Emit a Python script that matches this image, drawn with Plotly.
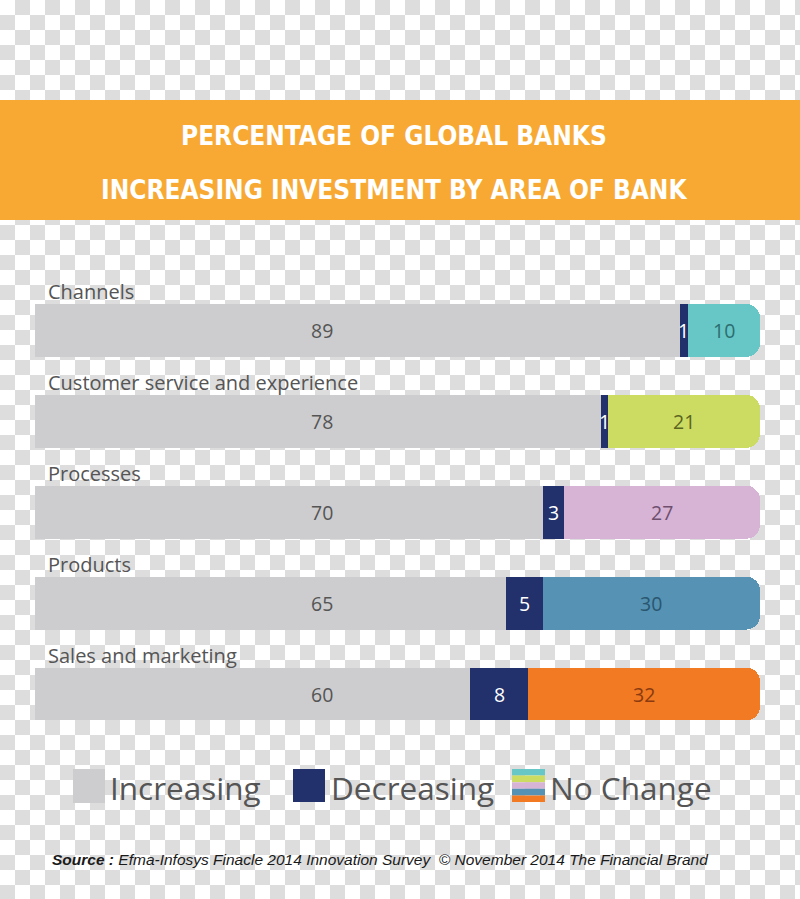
import base64
import plotly.graph_objects as go

# ---------------- data ----------------
categories = ["Channels", "Customer service and experience", "Processes", "Products", "Sales and marketing"]
increasing = [89, 78, 70, 65, 60]
decreasing = [1, 1, 3, 5, 8]
no_change = [10, 21, 27, 30, 32]
no_change_colors = ["#67C6C6", "#CCDC62", "#D7B3D5", "#5592B3", "#F27A22"]
no_change_text_colors = ["#2C6E70", "#5A6420", "#6E4F6E", "#2A5670", "#8A3A10"]
title_lines = ["PERCENTAGE OF GLOBAL BANKS", "INCREASING INVESTMENT BY AREA OF BANK"]
legend_labels = ["Increasing", "Decreasing", "No Change"]
source_bold = "Source :"
source_text = " Efma-Infosys Finacle 2014 Innovation Survey  © November 2014 The Financial Brand"

# ---------------- layout geometry ----------------
W, H = 800, 899
ML, MR, MT, MB = 35, 40, 285, 151
PW = W - ML - MR
PH = H - MT - MB

def px2x(px):
    return (px - ML) / PW

def py2y(py):
    return (H - MB - py) / PH

GRAY = "#CDCDCF"
NAVY = "#22306B"
TXT = "#555555"
NUMFONT = "Open Sans, Noto Sans, sans-serif"

fig = go.Figure()
fig.add_trace(go.Bar(y=categories, x=increasing, orientation="h", name=legend_labels[0],
                     marker=dict(color=GRAY, line=dict(width=0)), hoverinfo="x+name"))
fig.add_trace(go.Bar(y=categories, x=decreasing, orientation="h", name=legend_labels[1],
                     marker=dict(color=NAVY, line=dict(width=0)), hoverinfo="x+name"))
fig.add_trace(go.Bar(y=categories, x=no_change, orientation="h", name=legend_labels[2],
                     marker=dict(color=no_change_colors, line=dict(width=0)), hoverinfo="x+name"))

annotations = []
for i, cat in enumerate(categories):
    # row label above bar
    annotations.append(dict(x=px2x(46), xref="paper", y=cat, yref="y", yshift=38.5,
                            text=cat, showarrow=False, xanchor="left", yanchor="middle",
                            font=dict(family=NUMFONT, size=20, color=TXT)))
    # increasing value
    annotations.append(dict(x=px2x(322) * 100, y=cat, text=str(increasing[i]), showarrow=False,
                            font=dict(family=NUMFONT, size=19.5, color=TXT)))
    # decreasing value (centered on its segment)
    annotations.append(dict(x=increasing[i] + decreasing[i] / 2, y=cat, text=str(decreasing[i]),
                            showarrow=False, font=dict(family=NUMFONT, size=19.5, color="white")))
    # no change value
    annotations.append(dict(x=increasing[i] + decreasing[i] + no_change[i] / 2, y=cat,
                            text=str(no_change[i]), showarrow=False,
                            font=dict(family=NUMFONT, size=19.5, color=no_change_text_colors[i])))

# title
TFONT = "DejaVu Sans Condensed, DejaVu Sans, sans-serif"
annotations.append(dict(x=px2x(394), xref="paper", y=py2y(136), yref="paper", text="<b>%s</b>" % title_lines[0],
                        showarrow=False, xanchor="center", yanchor="middle",
                        font=dict(family=TFONT, size=26, color="white")))
annotations.append(dict(x=px2x(394), xref="paper", y=py2y(190), yref="paper", text="<b>%s</b>" % title_lines[1],
                        showarrow=False, xanchor="center", yanchor="middle",
                        font=dict(family=TFONT, size=26, color="white")))

# legend texts
legend_text_x = [108, 329, 548]
for lx, lab in zip(legend_text_x, legend_labels):
    annotations.append(dict(x=px2x(lx), xref="paper", y=py2y(787), yref="paper", text=lab,
                            showarrow=False, xanchor="left", yanchor="middle",
                            font=dict(family=NUMFONT, size=31.5, color=TXT)))

# source
annotations.append(dict(x=px2x(50), xref="paper", y=py2y(859), yref="paper",
                        text="<b><i>%s</i></b><i>%s</i>" % (source_bold, source_text),
                        showarrow=False, xanchor="left", yanchor="middle",
                        font=dict(family="Liberation Sans, Arial, sans-serif", size=15.5, color="#1a1a1a")))

shapes = []
# orange banner
shapes.append(dict(type="rect", xref="paper", yref="paper", x0=px2x(0), x1=px2x(W),
                   y0=py2y(220), y1=py2y(100), fillcolor="#F7A934", line=dict(width=0), layer="above"))
# legend swatches
shapes.append(dict(type="rect", xref="paper", yref="paper", x0=px2x(73), x1=px2x(105),
                   y0=py2y(803), y1=py2y(769), fillcolor=GRAY, line=dict(width=0)))
shapes.append(dict(type="rect", xref="paper", yref="paper", x0=px2x(293), x1=px2x(325),
                   y0=py2y(802), y1=py2y(769), fillcolor=NAVY, line=dict(width=0)))
stripe_top, stripe_h = 769, 33 / len(no_change_colors)
for k, c in enumerate(no_change_colors):
    shapes.append(dict(type="rect", xref="paper", yref="paper", x0=px2x(512), x1=px2x(545),
                       y0=py2y(stripe_top + (k + 1) * stripe_h), y1=py2y(stripe_top + k * stripe_h),
                       fillcolor=c, line=dict(width=0)))

# transparency checkerboard background
svg = ('<svg xmlns="http://www.w3.org/2000/svg" width="800" height="899">'
       '<defs><pattern id="p" width="30" height="30" patternUnits="userSpaceOnUse">'
       '<rect width="30" height="30" fill="#ffffff"/>'
       '<rect x="15" y="0" width="15" height="15" fill="#dddddd"/>'
       '<rect x="0" y="15" width="15" height="15" fill="#dddddd"/>'
       '</pattern></defs><rect width="800" height="899" fill="url(#p)"/></svg>')
src = "data:image/svg+xml;base64," + base64.b64encode(svg.encode()).decode()

fig.update_layout(
    width=W, height=H, autosize=False,
    margin=dict(l=ML, r=MR, t=MT, b=MB, pad=0),
    barmode="stack", bargap=0.417, barcornerradius=14,
    showlegend=False,
    paper_bgcolor="white", plot_bgcolor="rgba(0,0,0,0)",
    xaxis=dict(range=[0, 100], showgrid=False, zeroline=False, showticklabels=False,
               showline=False, ticks="", fixedrange=True),
    yaxis=dict(categoryorder="array", categoryarray=categories, autorange="reversed",
               showgrid=False, zeroline=False, showticklabels=False, showline=False, ticks=""),
    annotations=annotations,
    shapes=shapes,
    images=[dict(source=src, xref="paper", yref="paper", x=px2x(0), y=py2y(0),
                 sizex=W / PW, sizey=H / PH, xanchor="left", yanchor="top",
                 sizing="stretch", layer="below")],
)

fig.write_html("out.html")
